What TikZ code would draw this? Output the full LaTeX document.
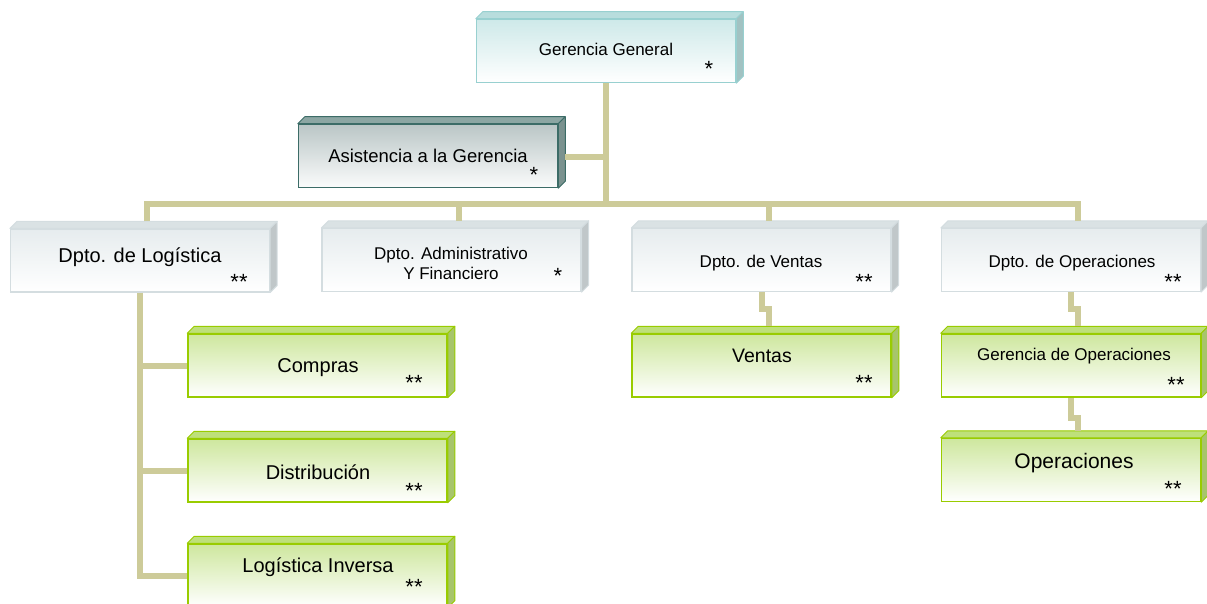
\documentclass[tikz,border=0pt]{standalone}
\usepackage{fontspec}
\setmainfont{Liberation Sans}
\definecolor{colorConector}{RGB}{205,203,153}
\definecolor{colorGrisBorde}{RGB}{212,221,224}
\definecolor{colorGrisFondo}{RGB}{230,236,238}
\definecolor{colorGrisCara}{RGB}{218,226,228}
\definecolor{colorTealBorde}{RGB}{152,208,208}
\definecolor{colorTealFondo}{RGB}{206,233,233}
\definecolor{colorTealCara}{RGB}{184,221,221}
\definecolor{colorAsisBorde}{RGB}{60,108,103}
\definecolor{colorAsisFondo}{RGB}{186,198,198}
\definecolor{colorAsisCara}{RGB}{140,166,163}
\definecolor{colorVerdeBorde}{RGB}{153,204,0}
\definecolor{colorVerdeFondo}{RGB}{206,231,158}
\definecolor{colorVerdeCara}{RGB}{190,224,122}
\usepackage{tikz}
\usetikzlibrary{calc}

\begin{document}
\begin{tikzpicture}[x=1pt, y=-1pt,
    caja/.style={rectangle, minimum width=259pt, minimum height=63pt, inner sep=0pt},
    cajaGris/.style={caja, draw=colorGrisBorde, line width=1.2pt, top color=colorGrisFondo, bottom color=white},
    cajaTeal/.style={caja, draw=colorTealBorde, line width=1.5pt, top color=colorTealFondo, bottom color=white},
    cajaAsis/.style={caja, draw=colorAsisBorde, line width=1.5pt, top color=colorAsisFondo, bottom color=white!94!colorAsisFondo},
    cajaVerde/.style={caja, draw=colorVerdeBorde, line width=1.5pt, top color=colorVerdeFondo, bottom color=white},
    texto/.style={anchor=base, inner sep=0pt, font=\fontsize{17}{20}\selectfont},
    marca/.style={anchor=base, inner sep=0pt, font=\fontsize{22}{24}\selectfont},
    linea/.style={draw=colorConector, line width=6pt, line join=miter}]
  \useasboundingbox (0,0) rectangle (1207,604);

  % cajas
  \node[cajaTeal] (gg) at (606,51) {};
  \node[cajaAsis] (asis) at (428,156) {};
  \node[cajaGris] (dLog) at (140,260.5) {};
  \node[cajaGris] (dAdm) at (451.5,260) {};
  \node[cajaGris] (dVen) at (761.5,260) {};
  \node[cajaGris] (dOp) at (1071,260) {};
  \node[cajaVerde] (cCom) at (317.5,365.5) {};
  \node[cajaVerde] (cDis) at (317.5,470.5) {};
  \node[cajaVerde] (cInv) at (317.5,575.5) {};
  \node[cajaVerde] (cVen) at (761.5,365.5) {};
  \node[cajaVerde] (cGop) at (1071,365.5) {};
  \node[cajaVerde] (cOp) at (1071,470) {};

  % caras de arriba y del lado
  \foreach \caja/\cara/\borde in {gg/colorTealCara/colorTealBorde, asis/colorAsisCara/colorAsisBorde,
      dLog/colorGrisCara/colorGrisBorde, dAdm/colorGrisCara/colorGrisBorde,
      dVen/colorGrisCara/colorGrisBorde, dOp/colorGrisCara/colorGrisBorde,
      cCom/colorVerdeCara/colorVerdeBorde, cDis/colorVerdeCara/colorVerdeBorde,
      cInv/colorVerdeCara/colorVerdeBorde, cVen/colorVerdeCara/colorVerdeBorde,
      cGop/colorVerdeCara/colorVerdeBorde, cOp/colorVerdeCara/colorVerdeBorde}{
    \filldraw[fill=\cara, draw=\borde, line width=1pt, line join=round]
      (\caja.north west) -- ++(7,-7) -- ([shift={(7,-7)}]\caja.north east) -- (\caja.north east) -- cycle;
    \filldraw[fill=\cara!88!black, draw=\borde, line width=1pt, line join=round]
      (\caja.north east) -- ++(7,-7) -- ([shift={(7,-7)}]\caja.south east) -- (\caja.south east) -- cycle;
    \coordinate (\caja Arriba) at ([shift={(7,-7)}]\caja.north);
  }

  % conectores
  \coordinate (barra) at (606,204);
  \draw[linea] (gg.south) -- (barra);
  \draw[linea] (gg.south |- 0,157) -- ([xshift=7]asis.east |- 0,157);
  \draw[linea] (dLogArriba) -- (dLogArriba |- barra) -- (dOpArriba |- barra) -- (dOpArriba);
  \draw[linea] (dAdmArriba) -- (dAdmArriba |- barra);
  \draw[linea] (dVenArriba) -- (dVenArriba |- barra);
  \draw[linea] (dLog.south) -- (dLog.south |- cInv.west) -- (cInv.west);
  \draw[linea] (dLog.south |- cCom.west) -- (cCom.west);
  \draw[linea] (dLog.south |- cDis.west) -- (cDis.west);
  \draw[linea] (dVen.south) -- ++(0,17) -| (cVenArriba);
  \draw[linea] (dOp.south) -- ++(0,17) -| (cGopArriba);
  \draw[linea] (cGop.south) -- ++(0,20) -| (cOpArriba);

  % textos
  \node[texto] (ggTexto) at (606,56) {Gerencia General};
  \node[texto, font=\fontsize{18.5}{20}\selectfont] (asisTexto) at (428,163) {Asistencia a la Gerencia};
  \node[texto, font=\fontsize{20}{22}\selectfont] (dLogTexto) at (140,262) {Dpto. de Logística};
  \node[texto, anchor=center, align=center] (dAdmTexto) at (451,263)
    {Dpto. Administrativo\\Y Financiero};
  \node[texto] (dVenTexto) at (761,267) {Dpto. de Ventas};
  \node[texto] (dOpTexto) at (1072,267) {Dpto. de Operaciones};
  \node[texto, font=\fontsize{20}{22}\selectfont] (cComTexto) at (318,372) {Compras};
  \node[texto, font=\fontsize{20}{22}\selectfont] (cDisTexto) at (318,479) {Distribución};
  \node[texto, font=\fontsize{20}{22}\selectfont] (cInvTexto) at (318,572) {Logística Inversa};
  \node[texto, font=\fontsize{19.5}{22}\selectfont] (cVenTexto) at (762,362) {Ventas};
  \node[texto] (cGopTexto) at (1074,360) {Gerencia de Operaciones};
  \node[texto, font=\fontsize{21}{24}\selectfont] (cOpTexto) at (1074,468) {Operaciones};

  % asteriscos
  \node[marca] (ggMarca) at (709,77) {*};
  \node[marca] (asisMarca) at (534,183) {*};
  \node[marca] (dLogMarca) at (239,289) {**};
  \node[marca] (dAdmMarca) at (558,283) {*};
  \node[marca] (dVenMarca) at (864,289) {**};
  \node[marca] (dOpMarca) at (1173,289) {**};
  \node[marca] (cComMarca) at (414,390) {**};
  \node[marca] (cDisMarca) at (414,498) {**};
  \node[marca] (cInvMarca) at (414,594) {**};
  \node[marca] (cVenMarca) at (864,390) {**};
  \node[marca] (cGopMarca) at (1176,392) {**};
  \node[marca] (cOpMarca) at (1173,496) {**};
\end{tikzpicture}
\end{document}
